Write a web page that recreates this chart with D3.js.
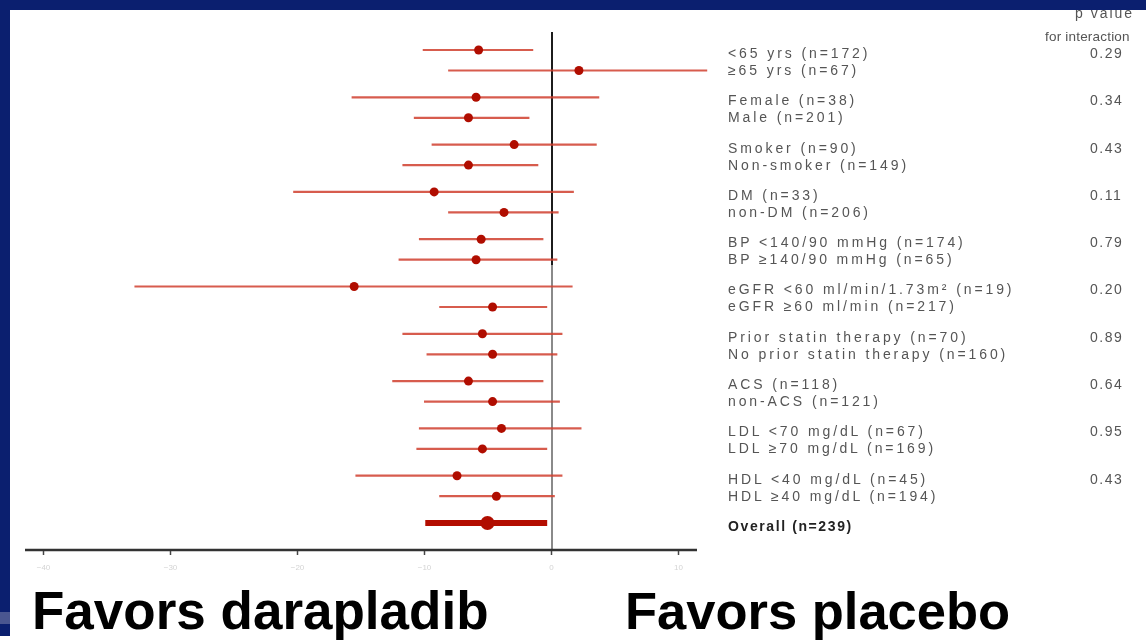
<!DOCTYPE html>
<html>
<head>
<meta charset="utf-8">
<script src="https://cdn.jsdelivr.net/npm/d3@7"></script>
<style>
  html, body { margin: 0; padding: 0; background: #fff; }
  svg { display: block; }
</style>
</head>
<body>
<div id="chart"></div>
<script>
// subgroup labels, grouped in pairs (last group = overall)
var groups = [
  ["<65 yrs (n=172)", "\u226565 yrs (n=67)"],
  ["Female (n=38)", "Male (n=201)"],
  ["Smoker (n=90)", "Non-smoker (n=149)"],
  ["DM (n=33)", "non-DM (n=206)"],
  ["BP <140/90 mmHg (n=174)", "BP \u2265140/90 mmHg (n=65)"],
  ["eGFR <60 ml/min/1.73m\u00b2 (n=19)", "eGFR \u226560 ml/min (n=217)"],
  ["Prior statin therapy (n=70)", "No prior statin therapy  (n=160)"],
  ["ACS (n=118)", "non-ACS (n=121)"],
  ["LDL <70 mg/dL (n=67)", "LDL \u226570 mg/dL (n=169)"],
  ["HDL <40 mg/dL (n=45)", "HDL \u226540 mg/dL (n=194)"],
  ["Overall (n=239)"]
];
var pValues = ["0.29", "0.34", "0.43", "0.11", "0.79", "0.20", "0.89", "0.64", "0.95", "0.43", ""];

// estimate and 95% CI, one per subgroup row
var estimates = [-5.7, 2.2, -5.9, -6.5, -2.9, -6.5, -9.2, -3.7, -5.5, -5.9, -15.5, -4.6, -5.4, -4.6, -6.5, -4.6, -3.9, -5.4, -7.4, -4.3, -5.0];
var lower     = [-10.1, -8.1, -15.7, -10.8, -9.4, -11.7, -20.3, -8.1, -10.4, -12.0, -32.8, -8.8, -11.7, -9.8, -12.5, -10.0, -10.4, -10.6, -15.4, -8.8, -9.9];
var upper     = [-1.4, 12.3, 3.8, -1.7, 3.6, -1.0, 1.8, 0.6, -0.6, 0.5, 1.7, -0.3, 0.9, 0.5, -0.6, 0.7, 2.4, -0.3, 0.9, 0.3, -0.3];

var xTicks = [-40, -30, -20, -10, 0, 10];

var W = 1146, H = 644;
var navy = "#0b1f6f";

var rows = [];
groups.forEach(function(g, gi) {
  g.forEach(function(label, k) {
    var i = rows.length;
    rows.push({ g: gi, k: k, label: label, est: estimates[i], lo: lower[i], hi: upper[i], overall: gi === groups.length - 1 });
  });
});

var svg = d3.select("#chart").append("svg")
  .attr("width", W).attr("height", H)
  .style("font-family", "'Liberation Sans', Arial, sans-serif");

var defs = svg.append("defs");
var blur = defs.append("filter").attr("id", "soft");
blur.append("feGaussianBlur").attr("stdDeviation", 0.45);

var x = d3.scaleLinear().domain([-40, 10]).range([43, 678]);
var yMark = d3.scaleLinear().domain([0, 10]).range([50, 523]);
var yText = d3.scaleLinear().domain([0, 10]).range([53, 526]);
function markY(d) { return yMark(d.g) + d.k * 20.5; }
function textY(d) { return yText(d.g) + d.k * 17; }

var plot = svg.append("g").attr("filter", "url(#soft)");

// zero reference line: dark at the top, grey further down
plot.append("line")
  .attr("x1", x(0) + 1).attr("x2", x(0) + 1)
  .attr("y1", 32).attr("y2", 265)
  .attr("stroke", "#1a1a1a").attr("stroke-width", 2);
plot.append("line")
  .attr("x1", x(0) + 1).attr("x2", x(0) + 1)
  .attr("y1", 265).attr("y2", 549)
  .attr("stroke", "#8a8a8a").attr("stroke-width", 2);

// x axis
var axisY = 550;
plot.append("line")
  .attr("x1", x.range()[0] - 18).attr("x2", x.range()[1] + 19)
  .attr("y1", axisY).attr("y2", axisY)
  .attr("stroke", "#333").attr("stroke-width", 2.5);

var axis = plot.append("g")
  .attr("transform", "translate(0," + (axisY + 1) + ")")
  .call(d3.axisBottom(x).tickValues(xTicks).tickSize(4).tickPadding(9).tickSizeOuter(0));
axis.select(".domain").remove();
axis.selectAll(".tick line").attr("stroke", "#444").attr("stroke-width", 1.5);
axis.selectAll(".tick text")
  .attr("fill", "#d4d4d4")
  .style("font-size", "8px");

// CI lines
plot.selectAll(".ci")
  .data(rows)
  .enter().append("line")
  .attr("class", "ci")
  .attr("x1", function(d) { return x(d.lo); })
  .attr("x2", function(d) { return x(d.hi); })
  .attr("y1", markY).attr("y2", markY)
  .attr("stroke", function(d) { return d.overall ? "#b30c00" : "#d0402f"; })
  .attr("stroke-opacity", function(d) { return d.overall ? 1 : 0.85; })
  .attr("stroke-width", function(d) { return d.overall ? 6 : 2.2; });

// point estimates
plot.selectAll(".est")
  .data(rows)
  .enter().append("circle")
  .attr("class", "est")
  .attr("cx", function(d) { return x(d.est); })
  .attr("cy", markY)
  .attr("r", function(d) { return d.overall ? 7 : 4.5; })
  .attr("fill", "#b00e00");

// subgroup labels
var txt = svg.append("g").attr("filter", "url(#soft)");
txt.selectAll(".lbl")
  .data(rows)
  .enter().append("text")
  .attr("class", "lbl")
  .attr("x", 728)
  .attr("y", textY)
  .attr("dy", "0.35em")
  .attr("fill", function(d) { return d.overall ? "#222" : "#555"; })
  .style("font-size", "14px")
  .style("font-weight", function(d) { return d.overall ? "bold" : "normal"; })
  .style("letter-spacing", function(d) { return d.overall ? "1.6px" : "2.9px"; })
  .text(function(d) { return d.label; });

// p values for interaction
txt.selectAll(".pv")
  .data(pValues)
  .enter().append("text")
  .attr("class", "pv")
  .attr("x", 1090)
  .attr("y", function(d, i) { return yText(i); })
  .attr("dy", "0.35em")
  .attr("fill", "#555")
  .style("font-size", "14px")
  .style("letter-spacing", "1.5px")
  .text(function(d) { return d; });

txt.append("text").attr("x", 1075).attr("y", 18)
  .attr("fill", "#555").style("font-size", "14px").style("letter-spacing", "2px")
  .text("p value");
txt.append("text").attr("x", 1045).attr("y", 41)
  .attr("fill", "#555").style("font-size", "13.5px").style("letter-spacing", "0.2px")
  .text("for interaction");

// favors captions
svg.append("text").attr("x", 32).attr("y", 629)
  .style("font-size", "53px").style("font-weight", "bold").attr("fill", "#000")
  .text("Favors darapladib");
svg.append("text").attr("x", 625).attr("y", 629)
  .style("font-size", "52.5px").style("font-weight", "bold").attr("fill", "#000")
  .text("Favors placebo");

// slide frame
svg.append("rect").attr("x", 0).attr("y", 0).attr("width", W).attr("height", 10).attr("fill", navy);
svg.append("rect").attr("x", 0).attr("y", 0).attr("width", 10).attr("height", 636).attr("fill", navy);
svg.append("rect").attr("x", 0).attr("y", 612).attr("width", 10).attr("height", 12).attr("fill", "#4a5690");
</script>
</body>
</html>
